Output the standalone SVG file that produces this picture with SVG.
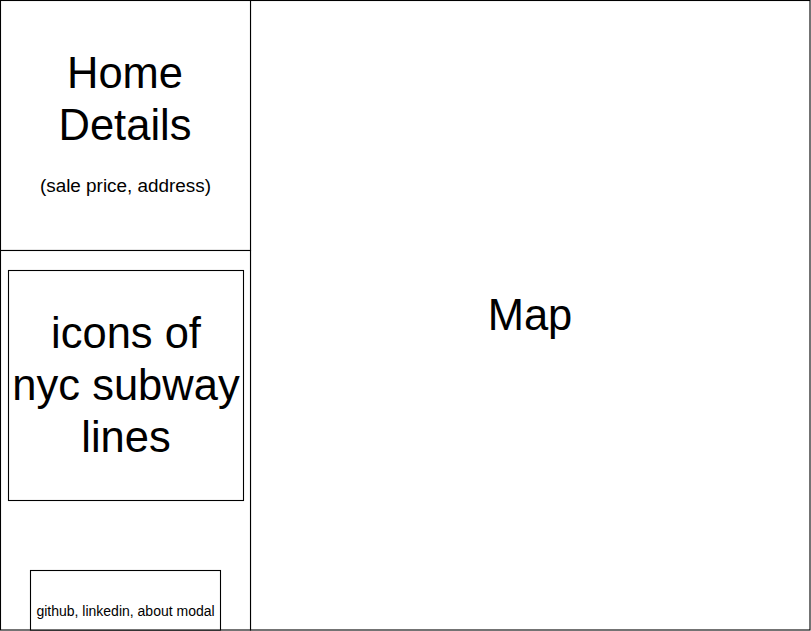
<svg xmlns="http://www.w3.org/2000/svg" width="811" height="631" viewBox="0 0 811 631">
<style>
.box{fill:#ffffff;stroke:#000000;stroke-width:1.1}
.t{font-family:"Liberation Sans",Arial,Helvetica,sans-serif;fill:#000000;text-anchor:middle}
.big{font-size:43.5px}
</style>
<rect x="0" y="0" width="811" height="631" fill="#ffffff"/>
<g id="map">
<rect class="box" x="250.5" y="0.5" width="559.5" height="629.5"/>
<text class="t big" x="530" y="330">Map</text>
</g>
<g id="home-details">
<rect class="box" x="0.5" y="0.5" width="250" height="250"/>
<text class="t big" x="125" y="88">Home</text>
<text class="t big" x="125" y="140">Details</text>
<text class="t" x="125.5" y="192" font-size="18.9">(sale price, address)</text>
</g>
<g id="sidebar">
<rect class="box" x="0.5" y="250.5" width="250" height="379.5"/>
</g>
<g id="subway-icons">
<rect class="box" x="8.5" y="270.5" width="235" height="230"/>
<text class="t big" x="126" y="348">icons of</text>
<text class="t big" x="126" y="400">nyc subway</text>
<text class="t big" x="126" y="452">lines</text>
</g>
<g id="footer-links">
<rect class="box" x="30.5" y="570.5" width="190" height="59.5"/>
<text class="t" x="125.5" y="616" font-size="14">github, linkedin, about modal</text>
</g>
<g id="connectors"></g>
</svg>
